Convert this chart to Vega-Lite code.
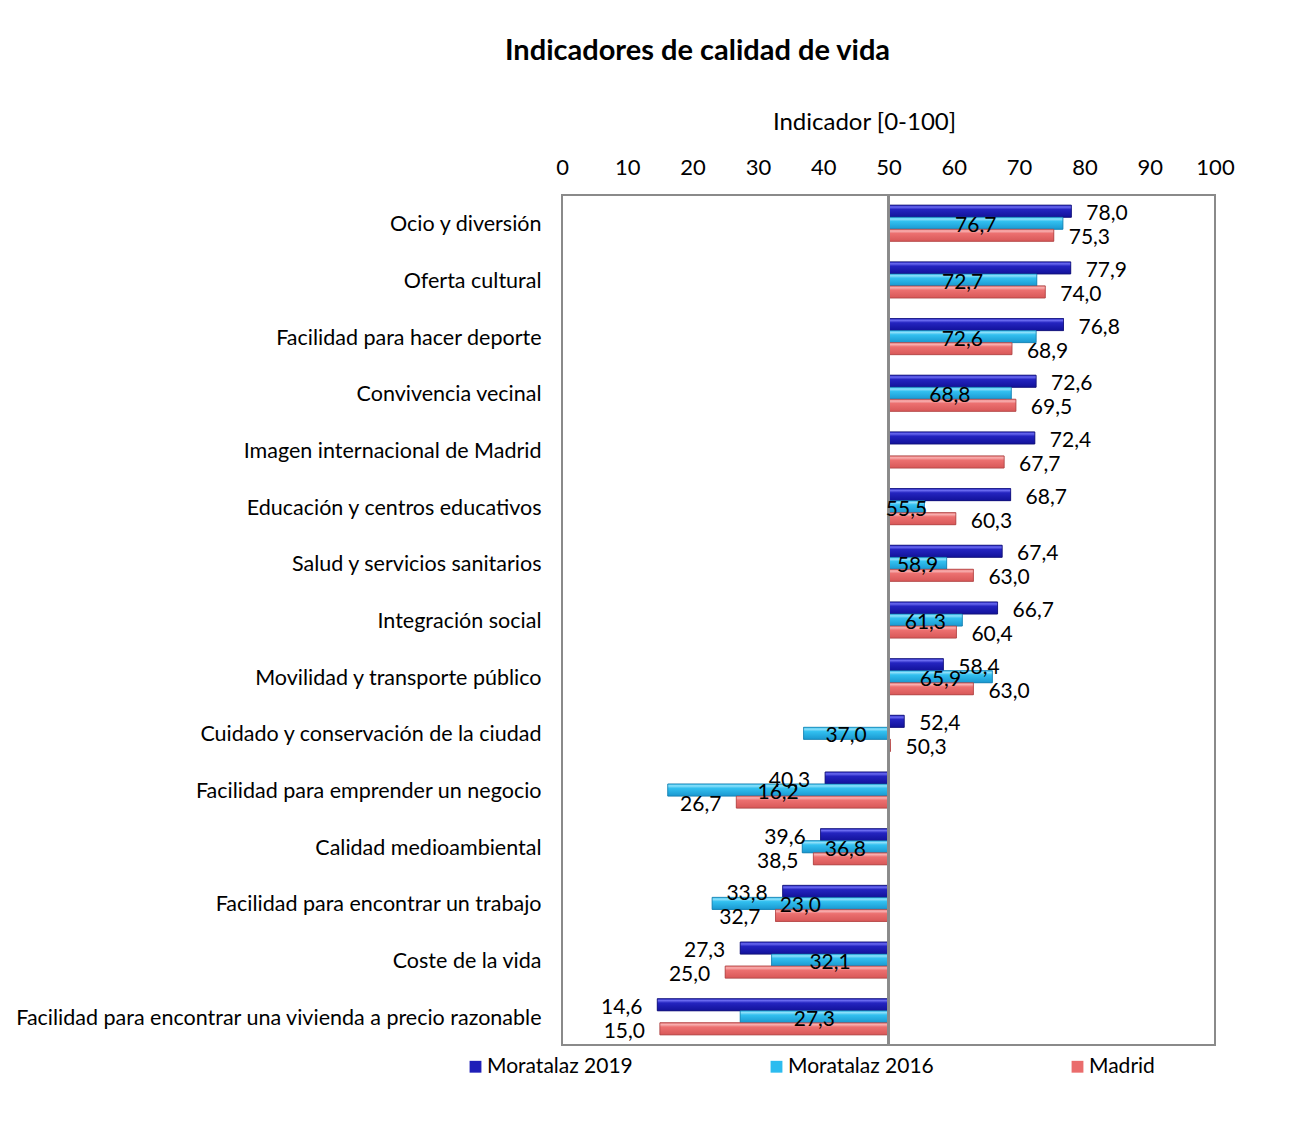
{
  "$schema": "https://vega.github.io/schema/vega-lite/v6.json",
  "autosize": {"type": "none"},
  "padding": {"left": 562, "top": 195, "right": 79, "bottom": 86},
  "width": 653,
  "height": 850,
  "background": "white",
  "title": {
    "text": "Indicadores de calidad de vida",
    "anchor": "middle",
    "dx": -191,
    "offset": 44,
    "fontSize": 29,
    "fontWeight": "bold",
    "font": "Lato",
    "color": "#000000"
  },
  "config": {
    "font": "Lato",
    "locale": {"number": {"decimal": ",", "thousands": ".", "grouping": [3], "currency": ["", " €"]}},
    "view": {"stroke": "#8a8a8a", "strokeWidth": 2},
    "axis": {"grid": false, "ticks": false, "domain": false, "labelColor": "#000000", "titleColor": "#000000", "labelFont": "Lato", "titleFont": "Lato"},
    "text": {"font": "Lato", "fontSize": 21, "color": "#000000", "baseline": "middle", "dy": 3}
  },
  "data": {
    "values": [
      {"indicador": "Ocio y diversión", "serie": "Moratalaz 2019", "valor": 78.0},
      {"indicador": "Ocio y diversión", "serie": "Moratalaz 2016", "valor": 76.7},
      {"indicador": "Ocio y diversión", "serie": "Madrid", "valor": 75.3},
      {"indicador": "Oferta cultural", "serie": "Moratalaz 2019", "valor": 77.9},
      {"indicador": "Oferta cultural", "serie": "Moratalaz 2016", "valor": 72.7},
      {"indicador": "Oferta cultural", "serie": "Madrid", "valor": 74.0},
      {"indicador": "Facilidad para hacer deporte", "serie": "Moratalaz 2019", "valor": 76.8},
      {"indicador": "Facilidad para hacer deporte", "serie": "Moratalaz 2016", "valor": 72.6},
      {"indicador": "Facilidad para hacer deporte", "serie": "Madrid", "valor": 68.9},
      {"indicador": "Convivencia vecinal", "serie": "Moratalaz 2019", "valor": 72.6},
      {"indicador": "Convivencia vecinal", "serie": "Moratalaz 2016", "valor": 68.8},
      {"indicador": "Convivencia vecinal", "serie": "Madrid", "valor": 69.5},
      {"indicador": "Imagen internacional de Madrid", "serie": "Moratalaz 2019", "valor": 72.4},
      {"indicador": "Imagen internacional de Madrid", "serie": "Madrid", "valor": 67.7},
      {"indicador": "Educación y centros educativos", "serie": "Moratalaz 2019", "valor": 68.7},
      {"indicador": "Educación y centros educativos", "serie": "Moratalaz 2016", "valor": 55.5},
      {"indicador": "Educación y centros educativos", "serie": "Madrid", "valor": 60.3},
      {"indicador": "Salud y servicios sanitarios", "serie": "Moratalaz 2019", "valor": 67.4},
      {"indicador": "Salud y servicios sanitarios", "serie": "Moratalaz 2016", "valor": 58.9},
      {"indicador": "Salud y servicios sanitarios", "serie": "Madrid", "valor": 63.0},
      {"indicador": "Integración social", "serie": "Moratalaz 2019", "valor": 66.7},
      {"indicador": "Integración social", "serie": "Moratalaz 2016", "valor": 61.3},
      {"indicador": "Integración social", "serie": "Madrid", "valor": 60.4},
      {"indicador": "Movilidad y transporte público", "serie": "Moratalaz 2019", "valor": 58.4},
      {"indicador": "Movilidad y transporte público", "serie": "Moratalaz 2016", "valor": 65.9},
      {"indicador": "Movilidad y transporte público", "serie": "Madrid", "valor": 63.0},
      {"indicador": "Cuidado y conservación de la ciudad", "serie": "Moratalaz 2019", "valor": 52.4},
      {"indicador": "Cuidado y conservación de la ciudad", "serie": "Moratalaz 2016", "valor": 37.0},
      {"indicador": "Cuidado y conservación de la ciudad", "serie": "Madrid", "valor": 50.3},
      {"indicador": "Facilidad para emprender un negocio", "serie": "Moratalaz 2019", "valor": 40.3},
      {"indicador": "Facilidad para emprender un negocio", "serie": "Moratalaz 2016", "valor": 16.2},
      {"indicador": "Facilidad para emprender un negocio", "serie": "Madrid", "valor": 26.7},
      {"indicador": "Calidad medioambiental", "serie": "Moratalaz 2019", "valor": 39.6},
      {"indicador": "Calidad medioambiental", "serie": "Moratalaz 2016", "valor": 36.8},
      {"indicador": "Calidad medioambiental", "serie": "Madrid", "valor": 38.5},
      {"indicador": "Facilidad para encontrar un trabajo", "serie": "Moratalaz 2019", "valor": 33.8},
      {"indicador": "Facilidad para encontrar un trabajo", "serie": "Moratalaz 2016", "valor": 23.0},
      {"indicador": "Facilidad para encontrar un trabajo", "serie": "Madrid", "valor": 32.7},
      {"indicador": "Coste de la vida", "serie": "Moratalaz 2019", "valor": 27.3},
      {"indicador": "Coste de la vida", "serie": "Moratalaz 2016", "valor": 32.1},
      {"indicador": "Coste de la vida", "serie": "Madrid", "valor": 25.0},
      {"indicador": "Facilidad para encontrar una vivienda a precio razonable", "serie": "Moratalaz 2019", "valor": 14.6},
      {"indicador": "Facilidad para encontrar una vivienda a precio razonable", "serie": "Moratalaz 2016", "valor": 27.3},
      {"indicador": "Facilidad para encontrar una vivienda a precio razonable", "serie": "Madrid", "valor": 15.0}
    ]
  },
  "layer": [
    {
      "mark": {"type": "bar", "strokeWidth": 0.6},
      "encoding": {
        "y": {"field": "indicador", "type": "nominal", "sort": null, "title": null,
              "scale": {"paddingInner": 0.364, "paddingOuter": 0.18},
              "axis": {"labelFontSize": 21.5, "labelPadding": 21, "labelLimit": 700, "labelOffset": 2}},
        "yOffset": {"field": "serie", "type": "nominal", "sort": ["Moratalaz 2019", "Moratalaz 2016", "Madrid"], "scale": {"paddingInner": 0, "paddingOuter": 0}},
        "x": {"field": "valor", "type": "quantitative", "title": "Indicador [0-100]",
              "scale": {"domain": [0, 100], "nice": false, "zero": false},
              "axis": {"orient": "top", "values": [0, 10, 20, 30, 40, 50, 60, 70, 80, 90, 100], "labelFlush": false, "labelFontSize": 22, "labelPadding": 16, "titleFontSize": 24, "titleFontWeight": "normal", "titlePadding": 22, "titleX": 302, "titleAlign": "center"}},
        "x2": {"datum": 50},
        "color": {"field": "serie", "type": "nominal", "sort": ["Moratalaz 2019", "Moratalaz 2016", "Madrid"],
                  "scale": {"domain": ["Moratalaz 2019", "Moratalaz 2016", "Madrid"], "range": ["#1f1fb8", "#2cbcef", "#ea6c6c"]},
                  "legend": {"title": null, "orient": "none", "legendX": -97, "legendY": 861, "direction": "horizontal", "symbolType": "square", "symbolSize": 140, "symbolStrokeWidth": 0, "labelFontSize": 21, "labelColor": "#000000", "labelOffset": 1, "columnPadding": 133, "labelLimit": 300}},
        "stroke": {"field": "serie", "type": "nominal", "scale": {"domain": ["Moratalaz 2019", "Moratalaz 2016", "Madrid"], "range": ["#12127a", "#1783b5", "#b04545"]}, "legend": null}
      }
    },
    {
      "transform": [{"filter": "datum.serie == 'Moratalaz 2019'"}],
      "mark": {"type": "bar", "stroke": "#10106e", "strokeWidth": 0.6,
               "fill": {"gradient": "linear", "x1": 0, "y1": 0, "x2": 0, "y2": 1,
                        "stops": [{"offset": 0, "color": "#2a2ac8"}, {"offset": 0.15, "color": "#6a6af0"}, {"offset": 0.35, "color": "#2424c0"}, {"offset": 1, "color": "#12129a"}]}},
      "encoding": {
        "y": {"field": "indicador", "type": "nominal", "sort": null, "title": null},
        "yOffset": {"field": "serie", "type": "nominal", "sort": ["Moratalaz 2019", "Moratalaz 2016", "Madrid"]},
        "x": {"field": "valor", "type": "quantitative", "title": "Indicador [0-100]"},
        "x2": {"datum": 50}
      }
    },
    {
      "transform": [{"filter": "datum.serie == 'Moratalaz 2016'"}],
      "mark": {"type": "bar", "stroke": "#1478a8", "strokeWidth": 0.6,
               "fill": {"gradient": "linear", "x1": 0, "y1": 0, "x2": 0, "y2": 1,
                        "stops": [{"offset": 0, "color": "#38c4f2"}, {"offset": 0.15, "color": "#8ee0fa"}, {"offset": 0.35, "color": "#32c0f0"}, {"offset": 1, "color": "#1a98d0"}]}},
      "encoding": {
        "y": {"field": "indicador", "type": "nominal", "sort": null, "title": null},
        "yOffset": {"field": "serie", "type": "nominal", "sort": ["Moratalaz 2019", "Moratalaz 2016", "Madrid"]},
        "x": {"field": "valor", "type": "quantitative", "title": "Indicador [0-100]"},
        "x2": {"datum": 50}
      }
    },
    {
      "transform": [{"filter": "datum.serie == 'Madrid'"}],
      "mark": {"type": "bar", "stroke": "#a84040", "strokeWidth": 0.6,
               "fill": {"gradient": "linear", "x1": 0, "y1": 0, "x2": 0, "y2": 1,
                        "stops": [{"offset": 0, "color": "#ee7a7a"}, {"offset": 0.15, "color": "#f8b0b0"}, {"offset": 0.35, "color": "#ec7070"}, {"offset": 1, "color": "#d85858"}]}},
      "encoding": {
        "y": {"field": "indicador", "type": "nominal", "sort": null, "title": null},
        "yOffset": {"field": "serie", "type": "nominal", "sort": ["Moratalaz 2019", "Moratalaz 2016", "Madrid"]},
        "x": {"field": "valor", "type": "quantitative", "title": "Indicador [0-100]"},
        "x2": {"datum": 50}
      }
    },
    {
      "mark": {"type": "rule", "color": "#8a8a8a", "strokeWidth": 1.5},
      "encoding": {"x": {"datum": 50}}
    },
    {
      "transform": [{"filter": "datum.serie != 'Moratalaz 2016' && datum.valor >= 50"}],
      "mark": {"type": "text", "align": "left", "dx": 15},
      "encoding": {
        "y": {"field": "indicador", "type": "nominal", "sort": null, "title": null},
        "yOffset": {"field": "serie", "type": "nominal", "sort": ["Moratalaz 2019", "Moratalaz 2016", "Madrid"]},
        "x": {"field": "valor", "type": "quantitative", "title": "Indicador [0-100]"},
        "text": {"field": "valor", "type": "quantitative", "format": ".1f"}
      }
    },
    {
      "transform": [{"filter": "datum.serie != 'Moratalaz 2016' && datum.valor < 50"}],
      "mark": {"type": "text", "align": "right", "dx": -15},
      "encoding": {
        "y": {"field": "indicador", "type": "nominal", "sort": null, "title": null},
        "yOffset": {"field": "serie", "type": "nominal", "sort": ["Moratalaz 2019", "Moratalaz 2016", "Madrid"]},
        "x": {"field": "valor", "type": "quantitative", "title": "Indicador [0-100]"},
        "text": {"field": "valor", "type": "quantitative", "format": ".1f"}
      }
    },
    {
      "transform": [{"filter": "datum.serie == 'Moratalaz 2016'"}],
      "mark": {"type": "text", "align": "center", "dx": {"expr": "(scale('x', 50) - scale('x', datum.valor)) / 2"}},
      "encoding": {
        "y": {"field": "indicador", "type": "nominal", "sort": null, "title": null},
        "yOffset": {"field": "serie", "type": "nominal", "sort": ["Moratalaz 2019", "Moratalaz 2016", "Madrid"]},
        "x": {"field": "valor", "type": "quantitative", "title": "Indicador [0-100]"},
        "text": {"field": "valor", "type": "quantitative", "format": ".1f"}
      }
    }
  ]
}
